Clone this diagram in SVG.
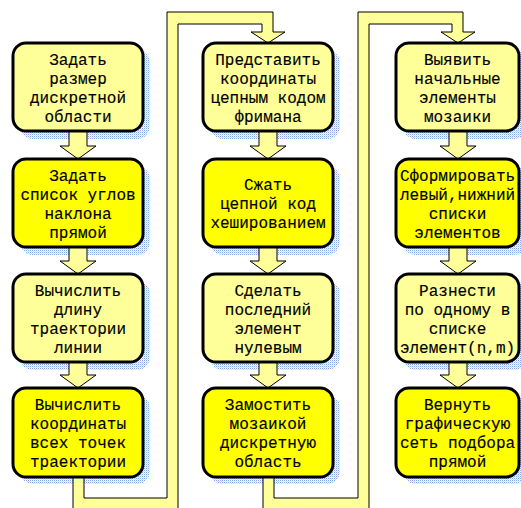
<svg xmlns="http://www.w3.org/2000/svg" width="521" height="508" viewBox="0 0 521 508">
  <defs>
    <!-- fine blue dot screen used for the drop shadows -->
    <pattern id="dots" width="2" height="2" patternUnits="userSpaceOnUse">
      <rect x="0" y="0" width="1" height="1" fill="#86a4e2"/>
      <rect x="1" y="1" width="1" height="1" fill="#cfdcf4"/>
    </pattern>
    <style>
      .shadow { fill: url(#dots); }
      .box { stroke: #000; stroke-width: 3; }
      .pale { fill: #ffff99; }
      .bright { fill: #ffff00; }
      .arrow { fill: #ffff99; stroke: #000; stroke-width: 1; stroke-linejoin: miter; }
      text { font-family: "Liberation Mono", "Courier New", monospace; font-size: 16px; fill: #000; stroke: #000; stroke-width: 0.15; text-anchor: middle; }
    </style>
  </defs>
  <rect width="521" height="508" fill="#ffffff"/>

  <!-- shadows -->
  <g id="shadows">
    <rect class="shadow" x="20" y="50" width="130" height="89" rx="13"/>
    <rect class="shadow" x="20" y="166" width="130" height="89" rx="13"/>
    <rect class="shadow" x="20" y="281" width="130" height="89" rx="13"/>
    <rect class="shadow" x="20" y="395" width="130" height="89" rx="13"/>
    <rect class="shadow" x="210" y="50" width="130" height="89" rx="13"/>
    <rect class="shadow" x="210" y="166" width="130" height="89" rx="13"/>
    <rect class="shadow" x="210" y="281" width="130" height="89" rx="13"/>
    <rect class="shadow" x="210" y="395" width="130" height="89" rx="13"/>
    <rect class="shadow" x="403" y="50" width="124" height="89" rx="13"/>
    <rect class="shadow" x="403" y="166" width="124" height="89" rx="13"/>
    <rect class="shadow" x="403" y="281" width="124" height="89" rx="13"/>
    <rect class="shadow" x="403" y="395" width="124" height="89" rx="13"/>
  </g>

  <!-- connectors -->
  <g id="connectors">
    <!-- column 1 -->
    <polygon class="arrow" points="69,130 87,130 87,146 96,146 78,159 60,146 69,146"/>
    <polygon class="arrow" points="69,246 87,246 87,261 96,261 78,274 60,261 69,261"/>
    <polygon class="arrow" points="69,361 87,361 87,375 96,375 78,388 60,375 69,375"/>
    <!-- column 2 -->
    <polygon class="arrow" points="259,130 277,130 277,146 286,146 268,159 250,146 259,146"/>
    <polygon class="arrow" points="259,246 277,246 277,261 286,261 268,274 250,261 259,261"/>
    <polygon class="arrow" points="259,361 277,361 277,375 286,375 268,388 250,375 259,375"/>
    <!-- column 3 -->
    <polygon class="arrow" points="449,130 467,130 467,146 476,146 458,159 440,146 449,146"/>
    <polygon class="arrow" points="449,246 467,246 467,261 476,261 458,274 440,261 449,261"/>
    <polygon class="arrow" points="449,361 467,361 467,375 476,375 458,388 440,375 449,375"/>
    <!-- column 1 bottom to column 2 top -->
    <polygon class="arrow" points="73,476 73,510 178,510 178,24 262,24 262,32 251,32 268,43 285,32 273,32 273,12 167,12 167,498 84,498 84,476"/>
    <!-- column 2 bottom to column 3 top -->
    <polygon class="arrow" points="263,476 263,510 369,510 369,24 452,24 452,32 441,32 458,43 475,32 463,32 463,12 358,12 358,498 274,498 274,476"/>
  </g>

  <!-- column 1 -->
  <g id="n1">
    <rect class="box pale" x="13" y="43" width="130" height="88" rx="13"/>
    <text x="78" y="65">Задать</text>
    <text x="78" y="84">размер</text>
    <text x="78" y="103">дискретной</text>
    <text x="78" y="122">области</text>
  </g>
  <g id="n2">
    <rect class="box bright" x="13" y="159" width="130" height="88" rx="13"/>
    <text x="78" y="181">Задать</text>
    <text x="78" y="200">список углов</text>
    <text x="78" y="219">наклона</text>
    <text x="78" y="238">прямой</text>
  </g>
  <g id="n3">
    <rect class="box pale" x="13" y="274" width="130" height="88" rx="13"/>
    <text x="78" y="296">Вычислить</text>
    <text x="78" y="315">длину</text>
    <text x="78" y="334">траектории</text>
    <text x="78" y="353">линии</text>
  </g>
  <g id="n4">
    <rect class="box bright" x="13" y="388" width="130" height="89" rx="13"/>
    <text x="78" y="410">Вычислить</text>
    <text x="78" y="429">координаты</text>
    <text x="78" y="448">всех точек</text>
    <text x="78" y="467">траектории</text>
  </g>

  <!-- column 2 -->
  <g id="n5">
    <rect class="box pale" x="203" y="43" width="130" height="88" rx="13"/>
    <text x="268" y="65">Представить</text>
    <text x="268" y="84">координаты</text>
    <text x="268" y="103">цепным кодом</text>
    <text x="268" y="122">фримана</text>
  </g>
  <g id="n6">
    <rect class="box bright" x="203" y="159" width="130" height="88" rx="13"/>
    <text x="268" y="190">Сжать</text>
    <text x="268" y="209">цепной код</text>
    <text x="268" y="228">хешированием</text>
  </g>
  <g id="n7">
    <rect class="box pale" x="203" y="274" width="130" height="88" rx="13"/>
    <text x="268" y="296">Сделать</text>
    <text x="268" y="315">последний</text>
    <text x="268" y="334">элемент</text>
    <text x="268" y="353">нулевым</text>
  </g>
  <g id="n8">
    <rect class="box bright" x="203" y="388" width="130" height="89" rx="13"/>
    <text x="268" y="410">Замостить</text>
    <text x="268" y="429">мозаикой</text>
    <text x="268" y="448">дискретную</text>
    <text x="268" y="467">область</text>
  </g>

  <!-- column 3 -->
  <g id="n9">
    <rect class="box pale" x="396" y="43" width="123" height="88" rx="13"/>
    <text x="457.5" y="65">Выявить</text>
    <text x="457.5" y="84">начальные</text>
    <text x="457.5" y="103">элементы</text>
    <text x="457.5" y="122">мозаики</text>
  </g>
  <g id="n10">
    <rect class="box bright" x="396" y="159" width="123" height="88" rx="13"/>
    <text x="457.5" y="181">Сформировать</text>
    <text x="457.5" y="200">левый,нижний</text>
    <text x="457.5" y="219">списки</text>
    <text x="457.5" y="238">элементов</text>
  </g>
  <g id="n11">
    <rect class="box pale" x="396" y="274" width="123" height="88" rx="13"/>
    <text x="457.5" y="296">Разнести</text>
    <text x="457.5" y="315">по одному в</text>
    <text x="457.5" y="334">списке</text>
    <text x="457.5" y="353">элемент(n,m)</text>
  </g>
  <g id="n12">
    <rect class="box bright" x="396" y="388" width="123" height="89" rx="13"/>
    <text x="457.5" y="410">Вернуть</text>
    <text x="457.5" y="429">графическую</text>
    <text x="457.5" y="448">сеть подбора</text>
    <text x="457.5" y="467">прямой</text>
  </g>
</svg>
